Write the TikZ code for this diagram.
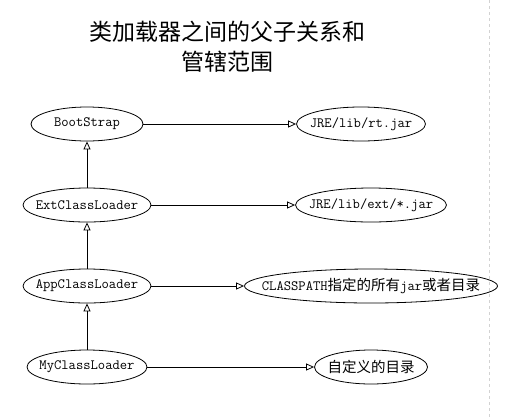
\documentclass[tikz,border=0pt]{standalone}
\usepackage{fontspec}
\newfontfamily\cjk{Noto Sans CJK SC}
\usetikzlibrary{shapes.geometric,arrows.meta}

\newcommand{\zh}[1]{{\cjk\fontsize{14.5pt}{16pt}\selectfont #1}}
\newcommand{\lbl}[1]{\makebox[0pt]{#1}}

\begin{document}
\begin{tikzpicture}[x=1pt,y=-1pt,->,>={Triangle[open,length=8pt,width=7pt]},line width=0.8pt,node distance=81pt,
  main node/.style={ellipse,draw,inner sep=0pt,minimum height=34pt,font=\ttfamily\fontsize{14.2pt}{16pt}\selectfont}]

            \useasboundingbox (0,0) rectangle (505,418);
            \draw[-,gray!35,dashed,line width=0.6pt] (489,0) -- (489,418);

            \node[font=\cjk\fontsize{23pt}{30pt}\selectfont,align=center] (t) at (227,47) {类加载器之间的父子关系和\\管辖范围};

            \node[main node, minimum width=112pt] (1) at (87,124) {\lbl{BootStrap}};
            \node[main node, minimum width=128pt] (2) [below of = 1]{\lbl{ExtClassLoader}};
            \node[main node, minimum width=128pt] (3) [below of = 2]{\lbl{AppClassLoader}};
            \node[main node, minimum width=120pt] (4) [below of = 3]{\lbl{MyClassLoader}};

            \node[main node, minimum width=129pt, node distance=274pt] (5) [right of = 1]{\lbl{JRE/lib/rt.jar}};
            \node[main node, minimum width=151pt, node distance=284pt] (6) [right of = 2]{\lbl{JRE/lib/ext/*.jar}};
            \node[main node, minimum width=253pt, node distance=284pt] (7) [right of = 3]{\lbl{CLASSPATH\zh{指定的所有}jar\zh{或者目录}}};
            \node[main node, minimum width=113pt, node distance=284pt] (8) [right of = 4]{\lbl{\zh{自定义的目录}}};

            \draw (2) to (1);
            \draw (3) to (2);
            \draw (4) to (3);

            \draw (1) to (5);
            \draw (2) to (6);
            \draw (3) to (7);
            \draw (4) to (8);

        \end{tikzpicture}
\end{document}
